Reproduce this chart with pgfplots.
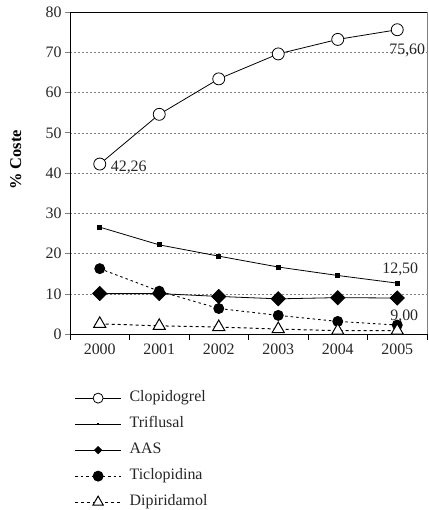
\documentclass[border=0pt]{standalone}
\usepackage{fontspec}
\setmainfont{Liberation Serif}
\usepackage{pgfplots}
\pgfplotsset{compat=1.18}

\begin{document}
\begin{tikzpicture}
\useasboundingbox (-70bp,-175.7bp) rectangle (359bp,334.3bp);
\begin{axis}[
    scale only axis,
    width=357bp, height=322.3bp,
    xmin=-0.5, xmax=5.5,
    ymin=0, ymax=80,
    clip=false,
    axis line style={line width=0.8bp},
    xtick={0,1,2,3,4,5},
    xticklabels={2000,2001,2002,2003,2004,2005},
    minor xtick={-0.5,0.5,1.5,2.5,3.5,4.5,5.5},
    ytick={0,10,20,30,40,50,60,70,80},
    tick pos=left,
    tick align=outside,
    major tick length=5bp,
    minor tick length=6bp,
    x tick style={draw=none},
    minor x tick style={draw=black, line width=0.8bp},
    y tick style={line width=0.8bp},
    ymajorgrids,
    grid style={gray, line width=0.6bp, dash pattern=on 2bp off 2bp},
    tick label style={font=\fontsize{16}{18}\selectfont, text=black!85},
    /pgf/number format/assume math mode=true,
    xticklabel style={yshift=-1bp},
    ylabel={\bfseries\% Coste},
    ylabel style={at={(axis description cs:-0.152,0.541)}, anchor=center, font=\fontsize{16.5}{18}\selectfont},
    legend cell align=left,
    legend style={at={(axis description cs:0.004,-0.168)}, anchor=north west, draw=none,
        font=\fontsize{16}{18}\selectfont, text=black!85,
        nodes={inner sep=0pt, text height=11bp, text depth=4bp},
        row sep=11bp, column sep=8bp},
    legend image code/.code={
        \draw[mark repeat=2,mark phase=2,#1] plot coordinates {(0bp,0bp)(23bp,0bp)(46bp,0bp)};},
]
\addplot[black, line width=0.8bp, mark=*, mark size=6bp, mark options={fill=white},
    legend image post style={mark size=5bp}]
    coordinates {(0,42.26) (1,54.6) (2,63.4) (3,69.6) (4,73.2) (5,75.6)};
\addlegendentry{Clopidogrel}
\addplot[black, line width=0.8bp, mark=square*, mark size=2bp,
    legend image post style={mark size=0.6bp}]
    coordinates {(0,26.6) (1,22.2) (2,19.4) (3,16.7) (4,14.6) (5,12.7)};
\addlegendentry{Triflusal}
\addplot[black, line width=0.8bp, mark=square*, mark size=5bp, mark options={rotate=45},
    legend image post style={mark size=2.5bp}]
    coordinates {(0,10.1) (1,10.1) (2,9.4) (3,8.8) (4,9.1) (5,9.0)};
\addlegendentry{AAS}
\addplot[black, line width=0.9bp, dash pattern=on 2.5bp off 3bp, mark=*, mark size=5bp, mark options={solid}]
    coordinates {(0,16.3) (1,10.7) (2,6.4) (3,4.7) (4,3.2) (5,2.3)};
\addlegendentry{Ticlopidina}
\addplot[black, line width=1bp, dash pattern=on 3bp off 3bp, mark=triangle*, mark size=7bp, mark options={solid, fill=white},
    legend image post style={mark size=6bp}]
    coordinates {(0,2.6) (1,2.1) (2,1.8) (3,1.3) (4,0.9) (5,0.9)};
\addlegendentry{Dipiridamol}

\draw[gray, line width=0.6bp] (rel axis cs:1,0) -- (rel axis cs:1,1);
\node[font=\fontsize{16}{18}\selectfont, text=black!85, anchor=center] at (axis cs:0,42.26) [xshift=29bp, yshift=-3bp] {42,26};
\node[font=\fontsize{16}{18}\selectfont, text=black!85, anchor=center] at (axis cs:5,75.6) [xshift=10bp, yshift=-21bp] {75,60};
\node[font=\fontsize{16}{18}\selectfont, text=black!85, anchor=center] at (axis cs:5,12.7) [xshift=3bp, yshift=14bp] {12,50};
\node[font=\fontsize{16}{18}\selectfont, text=black!85, anchor=center] at (axis cs:5,9.0) [xshift=7bp, yshift=-18bp] {9,00};
\end{axis}
\end{tikzpicture}
\end{document}
